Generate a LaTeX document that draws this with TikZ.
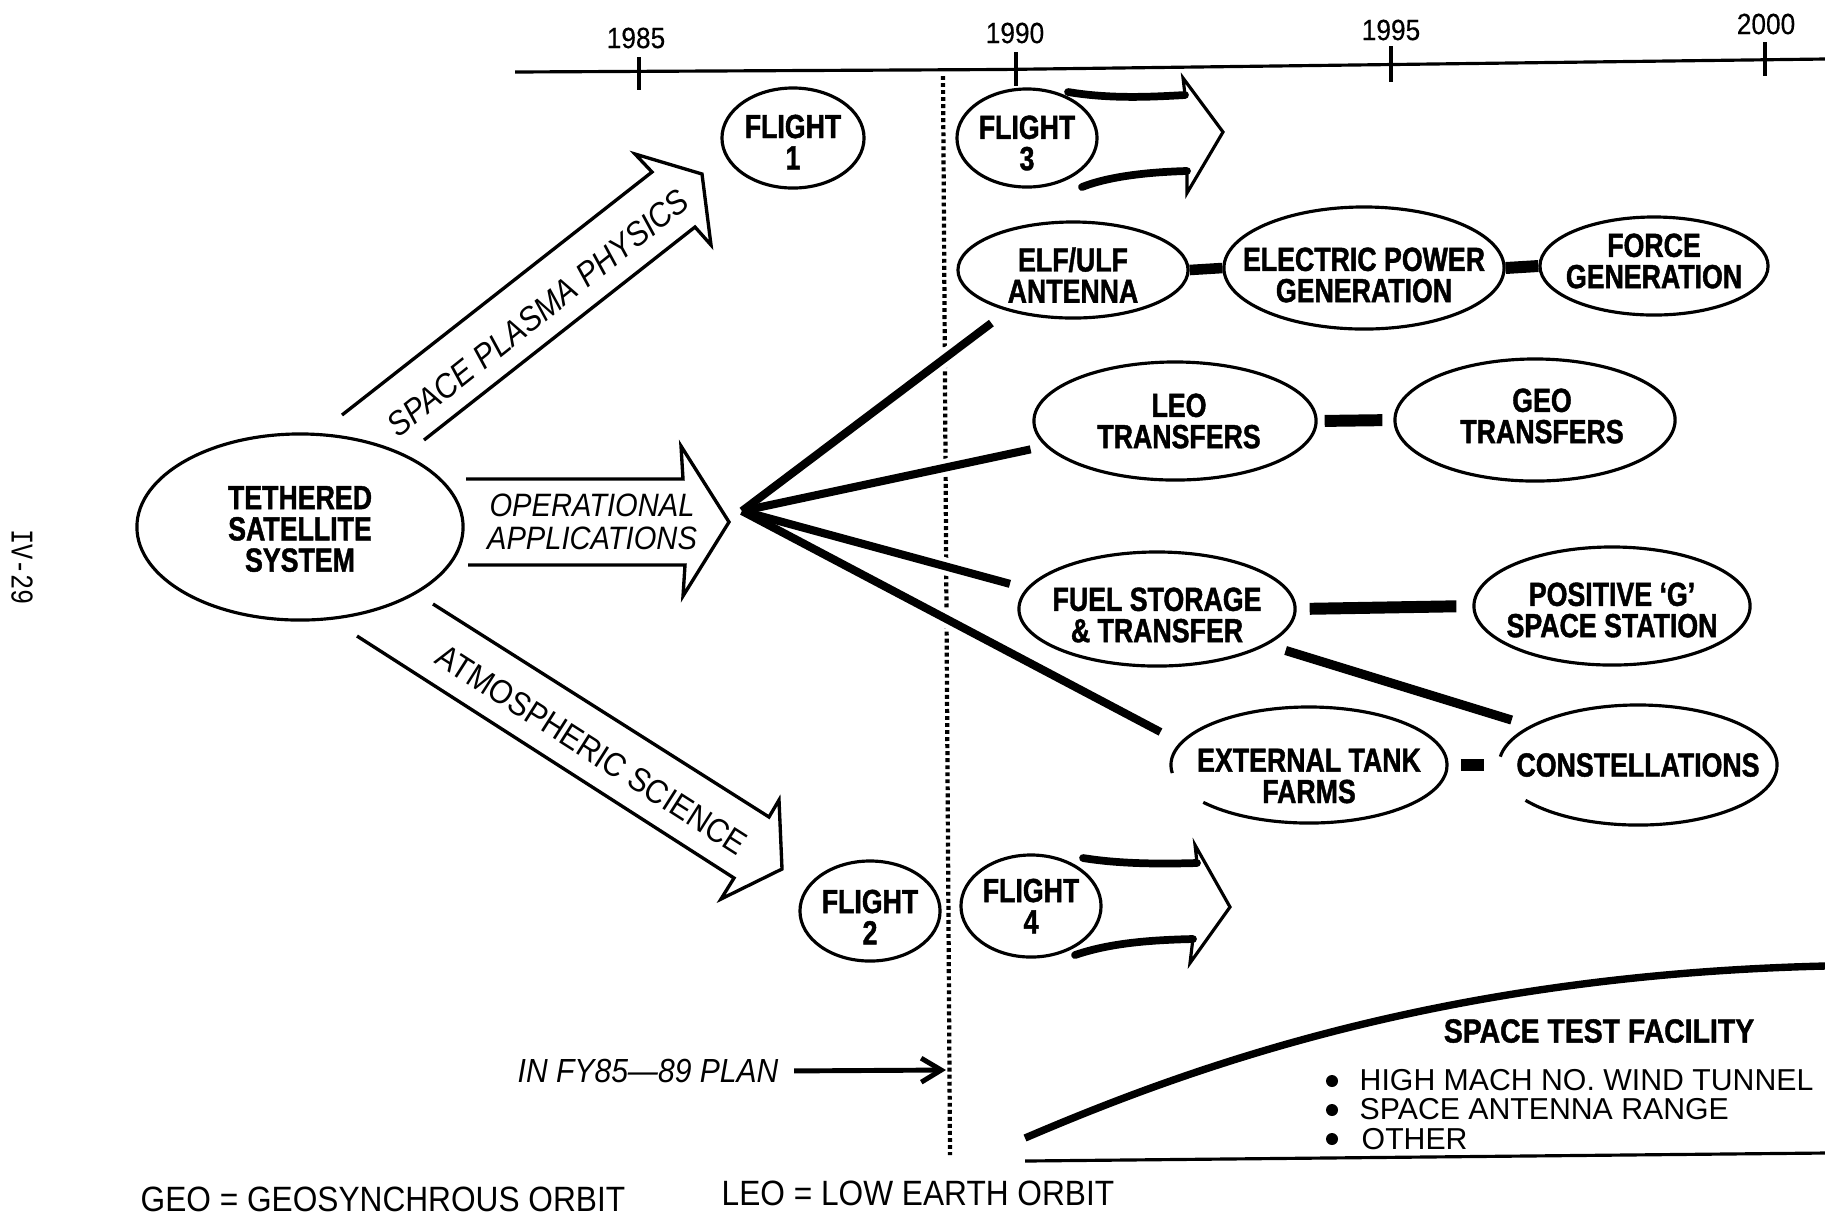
\documentclass[tikz,border=0pt]{standalone}
\usepackage{fontspec}
\setmainfont{Liberation Sans}
\newfontfamily\boxfont{Liberation Sans}[FakeStretch=0.80, BoldFeatures={FakeBold=1.3}]
\newfontfamily\titlefont{Liberation Sans}[FakeStretch=0.85, BoldFeatures={FakeBold=1.3}]
\newfontfamily\narrowfont{Liberation Sans}[FakeStretch=0.9]
\newfontfamily\yearfont{Liberation Sans}[FakeStretch=0.9, FakeBold=0.4]
\newfontfamily\pagefont{Liberation Mono}[FakeStretch=0.8]
\usetikzlibrary{shapes.geometric,arrows.meta,calc}

\begin{document}
\begin{tikzpicture}[x=0.01cm, y=-0.01cm,
  line join=miter,
  oval/.style={ellipse, draw, line width=0.9pt, inner sep=0pt},
  lbl/.style={font=\boxfont\bfseries\fontsize{9.5}{8.9}\selectfont, align=center, inner sep=0pt},
  slant/.style={font=\narrowfont\itshape\fontsize{9.2}{9.4}\selectfont, align=center, inner sep=0pt},
  upright/.style={font=\narrowfont\fontsize{9.5}{10}\selectfont, inner sep=0pt},
  year/.style={font=\yearfont\fontsize{8.3}{9}\selectfont, inner sep=0pt},
  legend/.style={font=\narrowfont\fontsize{10}{12}\selectfont, inner sep=0pt, anchor=west},
  item/.style={font=\fontsize{8.6}{10}\selectfont, inner sep=0pt, anchor=west},
  blockarrow/.style={draw, line width=0.95pt},
  fan/.style={line width=2.3pt},
  halo/.style={white, line width=5pt},
  bar/.style={line width=3.4pt},
  shaft/.style={line width=2.2pt, line cap=round},
  thin/.style={line width=0.9pt},
  dots/.style={line width=1.2pt, dash pattern=on 1.1pt off 0.9pt},
]
\useasboundingbox (0,0) rectangle (1825,1214);

% ---------- time axis ----------
\coordinate (axL) at (515,72);
\coordinate (axM) at (1000,69.5);
\coordinate (axR) at (1825,59);
\draw[thin] (axL) -- (axM) -- (axR);
\draw[thin] (639,57) -- (639,90);
\draw[thin] (1016,52) -- (1016,86);
\draw[thin] (1391,46) -- (1391,82);
\draw[thin] (1765,42) -- (1765,76);
\node[year] (y85) at (636,38) {1985};
\node[year] (y90) at (1015,33) {1990};
\node[year] (y95) at (1391,30) {1995};
\node[year] (y00) at (1766,24) {2000};

% ---------- plan boundary ----------
\coordinate (dtop) at (943,76);
\coordinate (dbot) at (950,1155);
\draw[dots] (dtop) -- (dbot);

% ---------- nodes ----------
\node[oval, minimum width=3.26cm, minimum height=1.86cm,
  label={[lbl,yshift=-0.02cm]center:{TETHERED\\SATELLITE\\SYSTEM}}] (tss) at (300,527) {};

\node[oval, minimum width=1.42cm, minimum height=1.00cm,
  label={[lbl,yshift=-0.04cm]center:{FLIGHT\\1}}] (f1) at (793,138) {};
\node[oval, minimum width=1.40cm, minimum height=0.98cm,
  label={[lbl,yshift=-0.05cm]center:{FLIGHT\\3}}] (f3) at (1027,138) {};
\node[oval, minimum width=1.40cm, minimum height=1.00cm,
  label={[lbl,yshift=-0.06cm]center:{FLIGHT\\2}}] (f2) at (870,911) {};
\node[oval, minimum width=1.40cm, minimum height=1.02cm,
  label={[lbl]center:{FLIGHT\\4}}] (f4) at (1031,906) {};

\node[oval, minimum width=2.30cm, minimum height=0.96cm,
  label={[lbl,yshift=-0.05cm]center:{ELF/ULF\\ANTENNA}}] (elf) at (1073,270) {};
\node[oval, minimum width=2.80cm, minimum height=1.22cm,
  label={[lbl,yshift=-0.07cm]center:{ELECTRIC POWER\\GENERATION}}] (elec) at (1364,268) {};
\node[oval, minimum width=2.28cm, minimum height=0.98cm,
  label={[lbl,yshift=0.05cm]center:{FORCE\\GENERATION}}] (force) at (1654,266) {};

\node[oval, minimum width=2.82cm, minimum height=1.18cm,
  label={[lbl,xshift=0.04cm]center:{LEO\\TRANSFERS}}] (leo) at (1175,421) {};
\node[oval, minimum width=2.80cm, minimum height=1.22cm,
  label={[lbl,xshift=0.07cm,yshift=0.04cm]center:{GEO\\TRANSFERS}}] (geo) at (1535,420) {};

\node[oval, minimum width=2.76cm, minimum height=1.14cm,
  label={[lbl,yshift=-0.06cm]center:{FUEL STORAGE\\\& TRANSFER}}] (fuel) at (1157,609) {};
\node[oval, minimum width=2.76cm, minimum height=1.18cm,
  label={[lbl,yshift=-0.04cm]center:{POSITIVE ‘G’\\SPACE STATION}}] (pos) at (1612,606) {};

\node[oval, draw=none, minimum width=2.76cm, minimum height=1.16cm,
  label={[lbl,yshift=-0.11cm]center:{EXTERNAL TANK\\FARMS}}] (ext) at (1309,765) {};
\node[oval, draw=none, minimum width=2.78cm, minimum height=1.20cm,
  label={[lbl]center:{CONSTELLATIONS}}] (const) at (1638,765) {};
% outlines of these two ovals are broken on the lower left
\draw[thin] ($(ext.center)+(220:1.38cm and 0.58cm)$)
  arc[start angle=220, end angle=548, x radius=1.38cm, y radius=0.58cm];
\draw[thin] ($(const.center)+(216:1.39cm and 0.60cm)$)
  arc[start angle=216, end angle=532, x radius=1.39cm, y radius=0.60cm];

% ---------- block arrows out of the satellite system ----------
\draw[blockarrow] (342,415) -- (652,172) -- (635,154) -- (702,174)
  -- (711,245) -- (695,227) -- (424,440);
\node[slant, font=\narrowfont\itshape\fontsize{9.6}{10}\selectfont, rotate=38.5]
  (spp) at (538,313) {SPACE PLASMA PHYSICS};

\draw[blockarrow] (466,479) -- (683,479) -- (681,446) -- (729,522)
  -- (683,596) -- (685,565) -- (468,565);
\node[slant] (opa) at (592,522) {OPERATIONAL\\APPLICATIONS};

\draw[blockarrow] (433,604) -- (769,817) -- (779,800) -- (782,869)
  -- (721,899) -- (734,878) -- (357,636);
\node[upright, rotate=-32.5] (atm) at (592,750) {ATMOSPHERIC SCIENCE};

% ---------- applications fan ----------
\coordinate (hub) at (742,511);
\begin{scope}
  \clip (925,0) rectangle (968,1214);
  \draw[halo] (hub) -- (elf.212);
  \draw[halo] (hub) -- (leo.191);
  \draw[halo] (hub) -- (fuel.171);
  \draw[halo] (hub) -- (ext.170);
\end{scope}
\draw[fan, shorten >=0.20cm] (hub) -- (elf.212);
\draw[fan, shorten >=0.15cm] (hub) -- (leo.191);
\draw[fan, shorten >=0.17cm] (hub) -- (fuel.171);
\draw[fan, shorten >=0.22cm] (hub) -- (ext.170);

\draw[bar, line width=3pt] (elf.east) -- (elec.west);
\draw[bar] (elec.east) -- (force.west);
\draw[bar, shorten <=0.07cm, shorten >=0.11cm] (leo.east) -- (geo.west);
\draw[bar, shorten <=0.13cm, shorten >=0.16cm] (fuel.east) -- (pos.west);
\draw[bar, shorten <=0.12cm, shorten >=0.13cm] (ext.east) -- (const.west);
\draw[fan, line width=2.6pt, shorten <=0.19cm, shorten >=0.19cm] (fuel.342) -- (const.160);

% ---------- follow-on flight arrows ----------
\draw[shaft] (1068,92) .. controls (1110,99) and (1150,97) .. (1185,95);
\draw[thin] (1185,95) -- (1183,78) -- (1223,132) -- (1187,193) -- (1187,170);
\draw[shaft] (1187,171) .. controls (1150,172) and (1110,176) .. (1082,187);

\draw[shaft] (1083,858) .. controls (1120,864) and (1160,864) .. (1197,863);
\draw[thin] (1197,863) -- (1195,845) -- (1230,907) -- (1190,963) -- (1193,938);
\draw[shaft] (1193,939) .. controls (1150,940) and (1110,943) .. (1075,955);

% ---------- planning horizon marker ----------
\node[slant, font=\narrowfont\itshape\fontsize{9.5}{10}\selectfont, anchor=west]
  (plan) at (517,1071) {IN FY85—89 PLAN};
\coordinate (planend) at (946,1070);
\draw[line width=1.4pt, shorten <=0.15cm,
  -{Straight Barb[length=2mm, width=2.4mm]}] (plan.east) -- (planend);

% ---------- space test facility ----------
\coordinate (stA) at (1025,1138);
\coordinate (stB) at (1825,966);
\draw[line width=2.1pt] (stA) .. controls (1200,1063) and (1450,975) .. (stB);
\coordinate (bsA) at (1025,1161);
\coordinate (bsB) at (1825,1153);
\draw[thin] (bsA) -- (bsB);
\node[lbl, font=\titlefont\bfseries\fontsize{9.5}{9}\selectfont] (stf) at (1599,1031) {SPACE TEST FACILITY};
\fill (1332,1081) circle (6);
\fill (1332,1110) circle (6);
\fill (1332,1139) circle (6);
\node[item] (it1) at (1359,1080) {HIGH MACH NO. WIND TUNNEL};
\node[item] (it2) at (1359,1109) {SPACE ANTENNA RANGE};
\node[item] (it3) at (1361,1139) {OTHER};

% ---------- abbreviations and page number ----------
\node[legend] (geodef) at (140,1199) {GEO = GEOSYNCHROUS ORBIT};
\node[legend] (leodef) at (721,1193) {LEO = LOW EARTH ORBIT};
\node[font=\pagefont\fontsize{9}{10}\selectfont, rotate=-90, inner sep=0pt] (pg) at (22,567) {IV-29};
\end{tikzpicture}
\end{document}
